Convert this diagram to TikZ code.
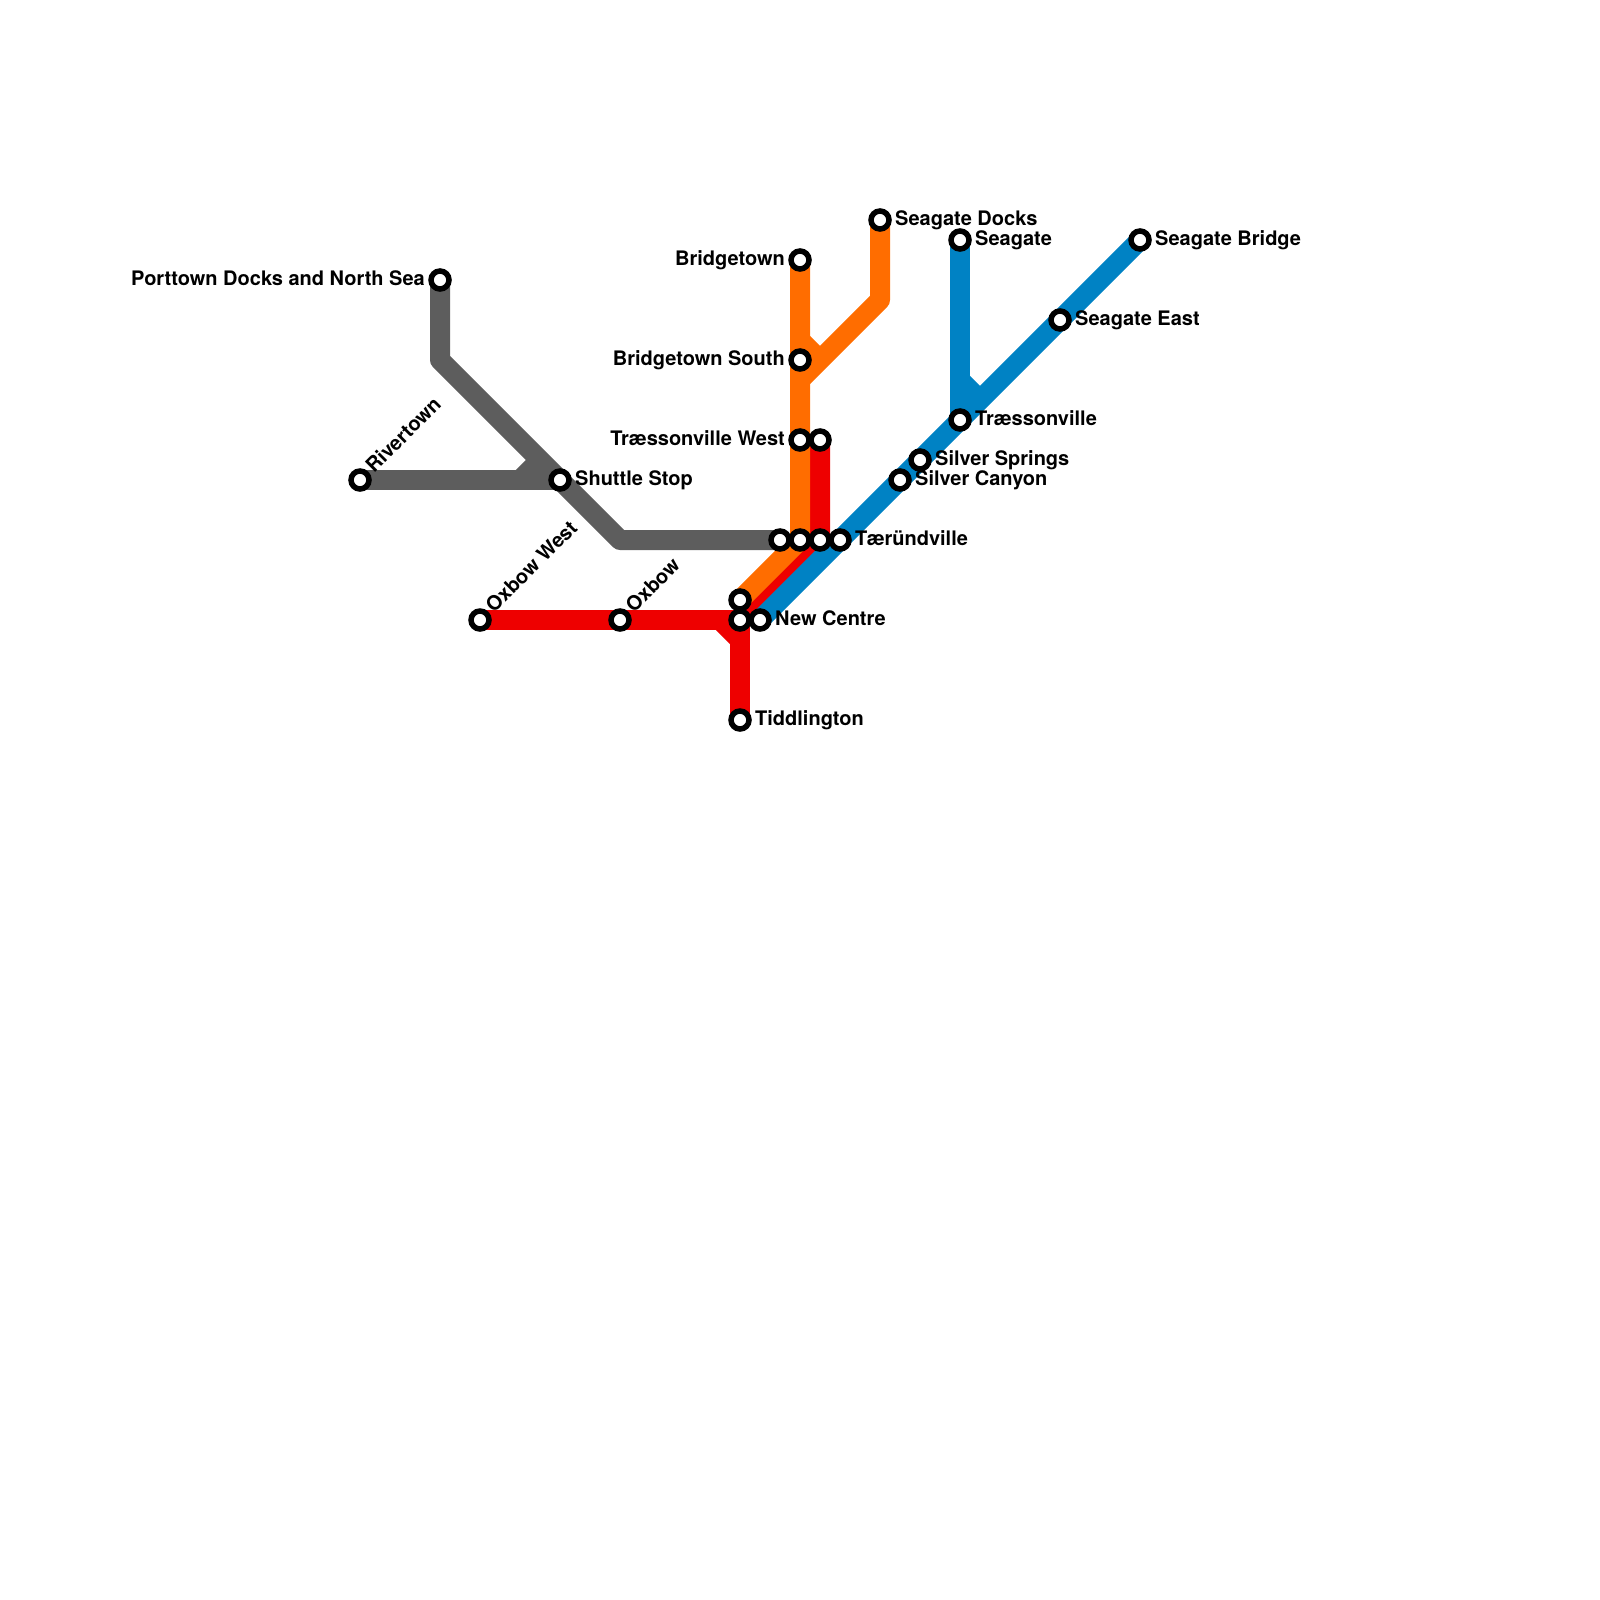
\documentclass[tikz,border=0pt]{standalone}
\usepackage{fontspec}
\setmainfont{TeX Gyre Heros}
\definecolor{cgray}{HTML}{5D5D5D}
\definecolor{cred}{HTML}{EE0000}
\definecolor{corange}{HTML}{FF6D00}
\definecolor{cblue}{HTML}{0082C4}
\tikzset{
  route/.style={line width=20pt,line join=round,line cap=butt},
  halt/.style={circle,draw=black,fill=white,line width=5.5pt,minimum size=18pt,inner sep=0pt},
  lbl/.style={font=\bfseries\fontsize{20}{22}\selectfont,text=black,inner sep=0pt},
  lblr/.style={lbl,anchor=base west},
  lbll/.style={lbl,anchor=base east},
  lbld/.style={lbl,anchor=base west,rotate=45},
}
\begin{document}
\begin{tikzpicture}[x=1pt,y=-1pt]
\useasboundingbox (0,0) rectangle (1600,1600);
\foreach \n/\x/\y in {pdns/440/280,gc1/440/360,gc2/620/540,river/360/480,shuttle/560/480,gb1/520/480,gb2/540/460,
  gend/780/540,oxw/480/620,oxb/620/620,nc/740/620,tid/740/720,rb1/720/620,rb2/740/640,
  tw2/820/440,ta2/820/540,ta1/800/540,ta3/840/540,ncn/740/600,bt/800/260,bs/800/360,tw/800/440,
  sd/880/220,oc/880/300,oj/800/380,ob1/800/340,ob2/820/360,
  sg/960/240,tv/960/420,sb/1140/240,se/1060/320,ss/920/460,sc/900/480,ne/760/620,bb1/960/380,bb2/980/400}
  {\coordinate (\n) at (\x,\y);}
\draw[route,cgray] (river) -- (shuttle);
\draw[route,cgray] (gb1) -- (gb2);
\draw[route,cgray] (pdns) -- (gc1) -- (gc2) -- (gend);
\draw[route,cred] (oxw) -- (nc) -- (tid);
\draw[route,cred] (rb1) -- (rb2);
\draw[route,cred] (nc) -- (ta2) -- (tw2);
\draw[route,corange] (bt) -- (ta1) -- (ncn);
\draw[route,corange] (sd) -- (oc) -- (oj);
\draw[route,corange] (ob1) -- (ob2);
\draw[route,cblue] (sb) -- (ne);
\draw[route,cblue] (sg) -- (tv);
\draw[route,cblue] (bb1) -- (bb2);
\foreach \n in {pdns,river,shuttle,gend,oxw,oxb,ncn,nc,ne,tid,bt,bs,tw,tw2,ta1,ta2,ta3,sd,sg,tv,sb,se,ss,sc}
  {\node[halt] (h\n) at (\n) {};}
\node[lbll] (l1) at (425,285) {Porttown Docks and North Sea};
\node[lbld] (l2) at (374,474) {Rivertown};
\node[lbld] (l4) at (494,614) {Oxbow West};
\node[lbld] (l5) at (634,614) {Oxbow};
\node[lblr] (l3) at (575,485) {Shuttle Stop};
\node[lblr] (l6) at (775,625) {New Centre};
\node[lblr] (l7) at (755,725) {Tiddlington};
\node[lblr] (l8) at (855,545) {Tæründville};
\node[lbll] (l9) at (785,265) {Bridgetown};
\node[lbll] (l10) at (785,365) {Bridgetown South};
\node[lbll] (l11) at (785,445) {Træssonville West};
\node[lblr] (l12) at (895,225) {Seagate Docks};
\node[lblr] (l13) at (975,245) {Seagate};
\node[lblr] (l14) at (1155,245) {Seagate Bridge};
\node[lblr] (l15) at (1075,325) {Seagate East};
\node[lblr] (l16) at (975,425) {Træssonville};
\node[lblr] (l17) at (935,465) {Silver Springs};
\node[lblr] (l18) at (915,485) {Silver Canyon};
\end{tikzpicture}
\end{document}
